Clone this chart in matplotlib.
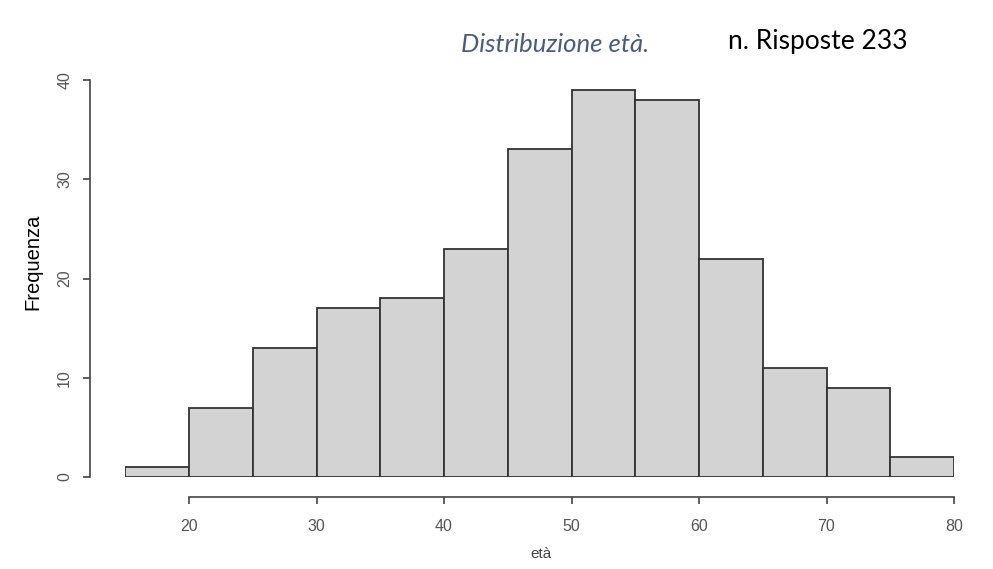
import matplotlib
matplotlib.use("Agg")
import matplotlib.pyplot as plt
import numpy as np

# classi di età (estremi) e frequenze osservate
bin_edges = [15, 20, 25, 30, 35, 40, 45, 50, 55, 60, 65, 70, 75, 80]
frequenze = [1, 7, 13, 17, 18, 23, 33, 39, 38, 22, 11, 9, 2]
x_ticks = [20, 30, 40, 50, 60, 70, 80]
y_ticks = [0, 10, 20, 30, 40]
n_risposte = sum(frequenze)

plt.rcParams['font.family'] = ['Liberation Sans', 'DejaVu Sans']

W, H = 993, 569
fig = plt.figure(figsize=(W / 100, H / 100), dpi=100)

# area del grafico in pixel: x 15..80 -> 125..954, y 0..40 -> 477..80
left, right, top, bottom = 125.25, 954, 80, 477
ax = fig.add_axes([left / W, (H - bottom) / H, (right - left) / W, (bottom - top) / H])

edges = np.array(bin_edges)
ax.bar(edges[:-1], frequenze, width=np.diff(edges), align='edge',
       facecolor='#d3d3d3', edgecolor='#333333', linewidth=1.3)

ax.set_xlim(15, 80)
ax.set_ylim(0, 40)

# assi in stile R: staccati dal grafico
for s in ['top', 'right']:
    ax.spines[s].set_visible(False)
ax.spines['left'].set_position(('outward', 25.2))
ax.spines['bottom'].set_position(('outward', 14.4))
ax.spines['left'].set_bounds(0, 40)
ax.spines['bottom'].set_bounds(20, 80)
for s in ['left', 'bottom']:
    ax.spines[s].set_color('#444444')
    ax.spines[s].set_linewidth(1.2)

ax.set_xticks(x_ticks)
ax.set_yticks(y_ticks)
ax.tick_params(axis='both', direction='out', length=5, width=1.2, color='#444444',
               labelcolor='#555555', labelsize=11.5)
ax.tick_params(axis='x', pad=11)
ax.tick_params(axis='y', pad=8)
for lab in ax.get_yticklabels():
    lab.set_rotation(90)
    lab.set_va('center')

fig.text(33 / W, 1 - 262 / H, 'Frequenza', rotation=90, ha='center', va='center',
         fontsize=14.5, color='black')
fig.text(541 / W, 1 - 554 / H, 'età', ha='center', va='center',
         fontsize=11, color='#444444')

fig.text(555 / W, 1 - 44 / H, 'Distribuzione età.', ha='center', va='center',
         fontsize=18.5, style='italic', color='#4b5c7a', family=['Lato', 'DejaVu Sans'])
fig.text(818 / W, 1 - 42 / H, 'n. Risposte %d' % n_risposte, ha='center', va='center',
         fontsize=19, color='black', family=['Lato', 'DejaVu Sans'])

fig.savefig('out.png', dpi=100)
